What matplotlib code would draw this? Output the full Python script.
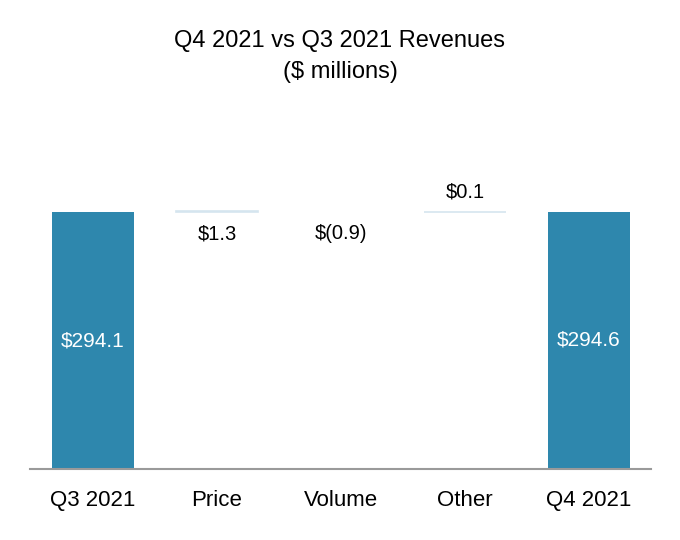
import matplotlib
matplotlib.use("Agg")
import matplotlib.pyplot as plt

plt.rcParams['font.family'] = ['Liberation Sans', 'DejaVu Sans']

categories = ['Q3 2021', 'Price', 'Volume', 'Other', 'Q4 2021']
changes = [294.1, 1.3, -0.9, 0.1, 294.6]
labels = ['$294.1', '$1.3', '$(0.9)', '$0.1', '$294.6']

main_color = '#2E87AD'
step_color = '#D5E5EF'

fig = plt.figure(figsize=(6.8, 5.4), dpi=100)
ax = fig.add_axes([0.044, 0.1315, 0.913, 0.55])

# waterfall bottoms / heights
bottoms = []
heights = []
running = 0
for i, v in enumerate(changes):
    if i == 0 or i == len(changes) - 1:
        bottoms.append(0)
        heights.append(v)
        running = v
    else:
        bottoms.append(running if v >= 0 else running + v)
        heights.append(abs(v))
        running += v

colors = [main_color, step_color, 'white', step_color, main_color]
x = list(range(len(categories)))
ax.bar(x, heights, bottom=bottoms, width=0.66, color=colors,
       edgecolor=colors, linewidth=[0, 1.2, 0, 1.2, 0])

# labels
ax.text(0, changes[0] / 2, labels[0], ha='center', va='center', color='white', fontsize=15)
ax.text(4, changes[4] / 2, labels[4], ha='center', va='center', color='white', fontsize=15)
ax.text(1, bottoms[1] - 25, labels[1], ha='center', va='center', fontsize=14.5)
ax.text(2, bottoms[1] - 25, labels[2], ha='center', va='center', fontsize=14.5)
ax.text(3, bottoms[3] + heights[3] + 22, labels[3], ha='center', va='center', fontsize=14.5)

ax.set_xlim(-0.51, 4.5)
ax.set_ylim(0, 340)
ax.set_xticks(x)
ax.set_xticklabels(categories, fontsize=16)
ax.tick_params(axis='x', length=0, pad=15)
ax.set_yticks([])
for s in ['top', 'right', 'left']:
    ax.spines[s].set_visible(False)
ax.spines['bottom'].set_color('#9A9A9A')
ax.spines['bottom'].set_linewidth(1.5)

fig.text(0.5, 0.925, 'Q4 2021 vs Q3 2021 Revenues', ha='center', va='center', fontsize=17)
fig.text(0.5, 0.866, '($ millions)', ha='center', va='center', fontsize=17)

fig.savefig('out.png', dpi=100)
